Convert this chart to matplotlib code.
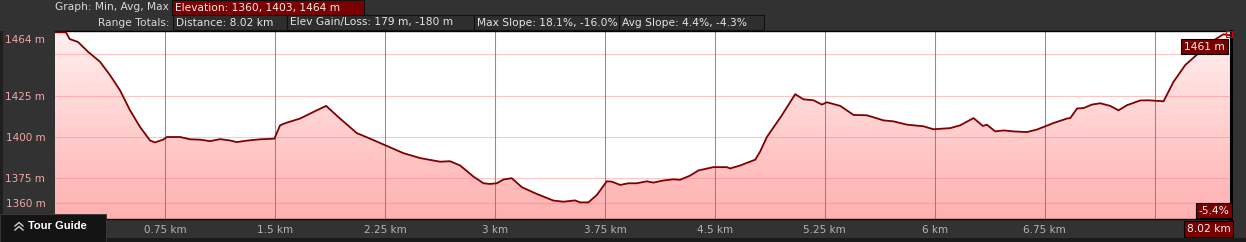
import numpy as np
import matplotlib
matplotlib.use("Agg")
import matplotlib.pyplot as plt
from matplotlib.patches import Rectangle
from matplotlib.lines import Line2D
from matplotlib.colors import LinearSegmentedColormap
from matplotlib.transforms import ScaledTranslation

# elevation profile (km, m)
dist_km = [0.00, 0.075, 0.10, 0.157, 0.225, 0.307, 0.375, 0.443, 0.512, 0.580,
           0.648, 0.682, 0.737, 0.764, 0.853, 0.921, 0.989, 1.057, 1.126, 1.194,
           1.239, 1.308, 1.398, 1.496, 1.535, 1.580, 1.671, 1.762, 1.849, 1.944,
           2.058, 2.149, 2.239, 2.376, 2.490, 2.626, 2.694, 2.763, 2.853, 2.922,
           2.967, 3.013, 3.058, 3.115, 3.184, 3.286, 3.399, 3.467, 3.547, 3.581,
           3.638, 3.695, 3.763, 3.797, 3.854, 3.911, 3.968, 4.036, 4.081, 4.149,
           4.218, 4.263, 4.332, 4.388, 4.490, 4.582, 4.604, 4.672, 4.775, 4.809,
           4.855, 4.957, 5.048, 5.104, 5.173, 5.230, 5.264, 5.355, 5.446, 5.537,
           5.650, 5.718, 5.810, 5.923, 5.991, 6.105, 6.173, 6.264, 6.328, 6.355,
           6.412, 6.469, 6.537, 6.628, 6.696, 6.810, 6.901, 6.924, 6.970, 7.015,
           7.072, 7.128, 7.196, 7.253, 7.310, 7.401, 7.458, 7.560, 7.628, 7.708,
           7.810, 7.924, 7.969, 8.02]
elev_m = [1463.4, 1463.4, 1459.3, 1457.5, 1451.6, 1445.5, 1437.4, 1428.2, 1416.0, 1405.9,
          1397.7, 1396.5, 1398.2, 1399.8, 1399.8, 1398.4, 1398.2, 1397.3, 1398.5, 1397.7,
          1396.7, 1397.6, 1398.4, 1398.8, 1406.9, 1408.5, 1411.0, 1415.0, 1418.7, 1411.0,
          1402.2, 1398.8, 1395.3, 1390.0, 1387.0, 1384.8, 1385.1, 1382.5, 1375.8, 1371.7,
          1371.3, 1371.7, 1374.0, 1374.8, 1369.3, 1365.2, 1361.2, 1360.5, 1361.3, 1360.1,
          1360.1, 1364.6, 1372.9, 1372.7, 1370.7, 1371.7, 1371.7, 1372.9, 1372.1, 1373.4,
          1374.1, 1373.8, 1376.4, 1379.5, 1381.5, 1381.5, 1380.7, 1382.5, 1386.0, 1391.0,
          1399.8, 1413.0, 1425.8, 1422.7, 1422.1, 1419.5, 1420.9, 1418.7, 1413.2, 1413.0,
          1409.9, 1409.3, 1407.3, 1406.3, 1404.5, 1405.2, 1406.9, 1411.3, 1406.5, 1407.3,
          1403.2, 1403.8, 1403.2, 1402.8, 1404.3, 1408.3, 1411.0, 1411.3, 1417.1, 1417.4,
          1419.5, 1420.3, 1418.7, 1416.0, 1419.1, 1422.0, 1422.1, 1421.5, 1433.3, 1443.5,
          1451.6, 1459.8, 1462.2, 1461.5]

ytick_vals = [1360, 1375, 1400, 1425, 1464]
ytick_labels = ["1360 m", "1375 m", "1400 m", "1425 m", "1464 m"]
ygrid_vals = [1360, 1375, 1400, 1425, 1450]
xtick_vals = [0.75, 1.5, 2.25, 3, 3.75, 4.5, 5.25, 6, 6.75]
xtick_labels = ["0.75 km", "1.5 km", "2.25 km", "3 km", "3.75 km", "4.5 km",
                "5.25 km", "6 km", "6.75 km"]
xgrid_vals = [0.75, 1.5, 2.25, 3, 3.75, 4.5, 5.25, 6, 6.75, 7.5]

header_row1 = "Graph: Min, Avg, Max"
elev_box = "Elevation: 1360, 1403, 1464 m"
header_row2 = "Range Totals:"
total_boxes = ["Distance: 8.02 km", "Elev Gain/Loss: 179 m, -180 m",
               "Max Slope: 18.1%, -16.0%", "Avg Slope: 4.4%, -4.3%"]
end_elev_label = "1461 m"
end_slope_label = "-5.4%"
end_dist_label = "8.02 km"

W, H = 1246, 242
BG = "#323232"
DARKRED = "#7a0000"
LINE = "#800000"

fig = plt.figure(figsize=(W / 100, H / 100), dpi=100, facecolor=BG)


def px(x, y):
    # pixel position (from top-left) -> figure fraction
    return x / W, 1 - y / H


def box(x0, y0, x1, y1, fc, ec="#111111", lw=0.8, z=5):
    r = Rectangle(px(x0, y1), (x1 - x0) / W, (y1 - y0) / H, transform=fig.transFigure,
                  facecolor=fc, edgecolor=ec, linewidth=lw, zorder=z)
    fig.patches.append(r)


ax = fig.add_axes([55 / W, 23 / H, 1176 / W, 187.7 / H])
ax.set_facecolor("white")
ax.set_xlim(0, 8.02)
ax.set_ylim(1350, 1464)

# gradient fill under the profile
poly = ax.fill_between(dist_km, elev_m, 1350, color="none", linewidth=0)
cmap = LinearSegmentedColormap.from_list("pinks", ["#ffb0b0", "#fff0f0"])
grad = np.linspace(0, 1, 256).reshape(-1, 1)
im = ax.imshow(grad, cmap=cmap, origin="lower", aspect="auto",
               extent=[0, 8.02, 1350, 1464], zorder=1)
im.set_clip_path(poly.get_paths()[0], transform=ax.transData)

for v in ygrid_vals:
    ax.axhline(v, color="#ff7070", alpha=0.4, lw=0.75, zorder=2)
for v in xgrid_vals:
    ax.axvline(v, color="#7a7a7a", alpha=0.85, lw=0.75, zorder=2)

ax.plot(dist_km, elev_m, color=LINE, lw=1.3, zorder=4)
ax.plot([dist_km[-1] - 0.015], [elev_m[-1] + 0.8], marker="s", ms=4.5, mfc="none",
        mec="#e00000", mew=0.8, zorder=6, clip_on=False)

ax.set_yticks(ytick_vals)
ax.set_yticklabels(ytick_labels)
ax.set_xticks(xtick_vals)
ax.set_xticklabels(xtick_labels)
ax.tick_params(axis="y", length=0, pad=7, labelsize=7.5, labelcolor="#f0a8a8")
ax.tick_params(axis="x", length=0, pad=4, labelsize=7.5, labelcolor="#b4b4b4")
for lab in ax.get_yticklabels():
    if lab.get_text() == "1464 m":
        lab.set_transform(lab.get_transform() +
                          ScaledTranslation(0, -0.08, fig.dpi_scale_trans))

for s in ["top", "bottom"]:
    ax.spines[s].set_color("black")
    ax.spines[s].set_linewidth(1.0)
ax.spines["right"].set_color("black")
ax.spines["right"].set_linewidth(2.2)
ax.spines["left"].set_visible(False)

# darker edges of the frame
box(0, 31, 3, 242, "#1e1e1e", ec="none", lw=0, z=0)
box(0, 238, W, 242, "#1a1a1a", ec="none", lw=0, z=0)

# header rows
fig.text(*px(169, 7.5), header_row1, ha="right", va="center", fontsize=7.7, color="#d8d8d8")
box(172, 0, 364, 14.5, DARKRED)
fig.text(*px(175, 7.5), elev_box, ha="left", va="center", fontsize=7.7, color="#eeeeee", zorder=6)
fig.text(*px(169, 22.5), header_row2, ha="right", va="center", fontsize=7.7, color="#d8d8d8")
edges = [172.7, 287.3, 474, 619, 764]
for i, t in enumerate(total_boxes):
    box(edges[i], 15, edges[i + 1], 30, "#2e2e2e")
    fig.text(*px(edges[i] + 3, 22.5), t, ha="left", va="center", fontsize=7.7,
             color="#e4e4e4", zorder=6)

# end-of-range labels
box(1181, 39, 1228, 54.3, DARKRED, ec="black", z=7)
fig.text(*px(1204.5, 46.8), end_elev_label, ha="center", va="center", fontsize=7.7,
         color="#f2f2f2", zorder=8)
box(1196, 203.3, 1232, 218.3, DARKRED, ec="black", z=7)
fig.text(*px(1214, 211), end_slope_label, ha="center", va="center", fontsize=7.7,
         color="#f2f2f2", zorder=8)
box(1184, 221, 1233, 236.5, DARKRED, ec="black", z=7)
fig.text(*px(1208.5, 229), end_dist_label, ha="center", va="center", fontsize=7.7,
         color="#f2f2f2", zorder=8)

# tour guide tab
box(0, 213.5, 106, 242, "#141414", ec="#3a3a3a", lw=0.6, z=7)
for yy in (226.0, 230.0):
    xs = [15 / W, 19 / W, 23 / W]
    ys = [1 - yy / H, 1 - (yy - 3.5) / H, 1 - yy / H]
    fig.lines.append(Line2D(xs, ys, transform=fig.transFigure, color="#cfcfcf",
                            lw=1.0, zorder=8))
fig.text(*px(28, 226), "Tour Guide", ha="left", va="center", fontsize=8,
         family="Liberation Sans", weight="bold", color="white", zorder=8)

fig.savefig("out.png", dpi=100, facecolor=BG)
